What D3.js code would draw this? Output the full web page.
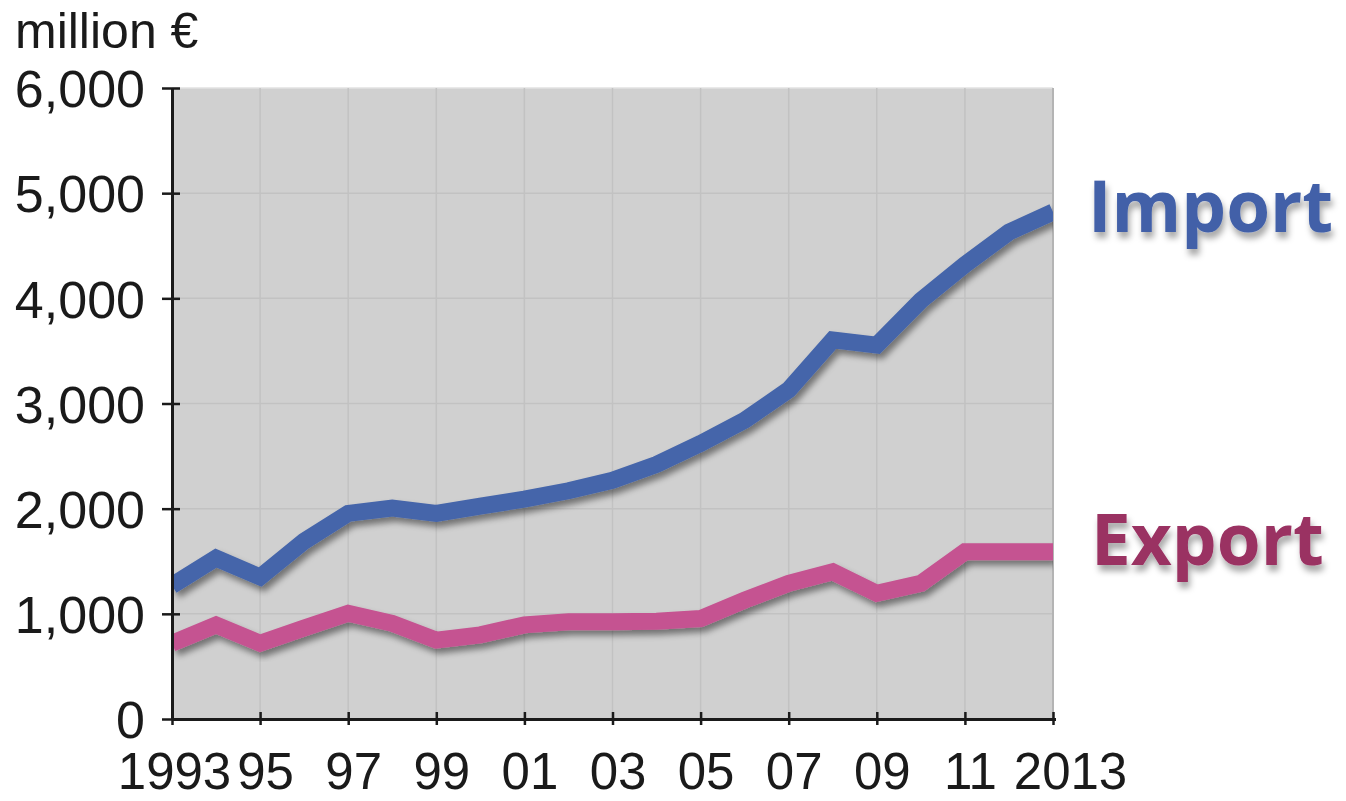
<!DOCTYPE html>
<html>
<head>
<meta charset="utf-8">
<script src="https://cdn.jsdelivr.net/npm/d3@7"></script>
<style>
  html, body { margin: 0; padding: 0; background: #ffffff; }
  svg { display: block; }
</style>
</head>
<body>
<svg id="chart" width="1346" height="801"></svg>
<script>
// Trade values, million €
const years = [1993, 1994, 1995, 1996, 1997, 1998, 1999, 2000, 2001, 2002, 2003,
               2004, 2005, 2006, 2007, 2008, 2009, 2010, 2011, 2012, 2013];
const importValues = [1270, 1530, 1350, 1690, 1955, 2005, 1955, 2025, 2090, 2170, 2270,
                      2420, 2620, 2840, 3130, 3605, 3555, 3980, 4320, 4630, 4820];
const exportValues = [720, 895, 720, 865, 1005, 910, 750, 800, 895, 925, 925,
                      930, 955, 1130, 1290, 1400, 1195, 1290, 1590, 1590, 1590];
const xTickYears = [1993, 1995, 1997, 1999, 2001, 2003, 2005, 2007, 2009, 2011, 2013];
const xTickLabels = ["1993", "95", "97", "99", "01", "03", "05", "07", "09", "11", "2013"];
const yTicks = [0, 1000, 2000, 3000, 4000, 5000, 6000];
const unitLabel = "million €";
const seriesNames = ["Import", "Export"];

const svg = d3.select("#chart");
const plotLeft = 172, plotRight = 1053, plotTop = 88, plotBottom = 719;

const x = d3.scaleLinear().domain([1993, 2013]).range([plotLeft, plotRight]);
const y = d3.scaleLinear().domain([0, 6000]).range([plotBottom, plotTop]);

const defs = svg.append("defs");
const lineShadow = defs.append("filter").attr("id", "lineShadow")
  .attr("x", "-10%").attr("y", "-10%").attr("width", "120%").attr("height", "130%");
lineShadow.append("feDropShadow").attr("dx", 3).attr("dy", 5).attr("stdDeviation", 3)
  .attr("flood-color", "#000").attr("flood-opacity", 0.45);
const textShadow = defs.append("filter").attr("id", "textShadow")
  .attr("x", "-10%").attr("y", "-20%").attr("width", "120%").attr("height", "150%");
textShadow.append("feDropShadow").attr("dx", 2).attr("dy", 6).attr("stdDeviation", 3)
  .attr("flood-color", "#000").attr("flood-opacity", 0.35);
defs.append("clipPath").attr("id", "plotClip")
  .append("rect").attr("x", plotLeft).attr("y", plotTop - 20)
  .attr("width", plotRight - plotLeft).attr("height", plotBottom - plotTop + 40);

// Plot background
svg.append("rect").attr("x", plotLeft).attr("y", plotTop)
  .attr("width", plotRight - plotLeft).attr("height", plotBottom - plotTop)
  .attr("fill", "#d0d0d0");

// Grid lines
svg.append("g").selectAll("line").data(yTicks.filter(d => d > 0)).join("line")
  .attr("x1", plotLeft).attr("x2", plotRight).attr("y1", d => y(d)).attr("y2", d => y(d))
  .attr("stroke", d => d === 6000 ? "#e2e2e2" : "#c2c2c2").attr("stroke-width", 1.5);
svg.append("g").selectAll("line").data(xTickYears.slice(1)).join("line")
  .attr("x1", d => x(d)).attr("x2", d => x(d)).attr("y1", plotTop).attr("y2", plotBottom)
  .attr("stroke", d => d === 2013 ? "#b4b4b4" : "#c2c2c2").attr("stroke-width", d => d === 2013 ? 2 : 1.5);

// Series lines
const line = d3.line().x((d, i) => x(years[i])).y(d => y(d)).curve(d3.curveLinear);
const lines = svg.append("g").attr("clip-path", "url(#plotClip)");
lines.append("path").datum(exportValues).attr("d", line)
  .attr("fill", "none").attr("stroke", "#c55391").attr("stroke-width", 17)
  .attr("stroke-linejoin", "miter").attr("filter", "url(#lineShadow)");
lines.append("path").datum(importValues).attr("d", line)
  .attr("fill", "none").attr("stroke", "#4565aa").attr("stroke-width", 17)
  .attr("stroke-linejoin", "miter").attr("filter", "url(#lineShadow)");

// Axes
const fmt = d3.format(",");
const yAxis = svg.append("g").attr("transform", `translate(${plotLeft},0)`)
  .call(d3.axisLeft(y).tickValues(yTicks).tickFormat(fmt).tickSizeInner(10).tickSizeOuter(0).tickPadding(17));
yAxis.selectAll(".tick line").attr("x2", 8).attr("x1", -10);
const xAxis = svg.append("g").attr("transform", `translate(0,${plotBottom})`)
  .call(d3.axisBottom(x).tickValues(xTickYears).tickFormat((d, i) => xTickLabels[i])
    .tickSizeInner(6).tickSizeOuter(0).tickPadding(28));
xAxis.selectAll(".tick line").attr("y1", -7).attr("y2", 6);
xAxis.select(".domain").attr("d", `M${plotLeft},0.5H${plotRight + 3}`);

[yAxis, xAxis].forEach(g => {
  g.select(".domain").attr("stroke", "#1a1a1a").attr("stroke-width", 3);
  g.selectAll(".tick line").attr("stroke", "#1a1a1a").attr("stroke-width", 2.5);
  g.selectAll(".tick text").attr("fill", "#1a1a1a")
    .attr("font-family", "'Liberation Sans', Arial, sans-serif").attr("font-size", 51);
});
yAxis.selectAll(".tick text").attr("dy", "0.36em").attr("font-size", 52);
xAxis.selectAll(".tick text").attr("dy", "0.71em")
  .attr("dx", d => d === 1993 ? 2 : (d === 2013 ? 17 : 5));

// Unit label
svg.append("text").attr("x", 15).attr("y", 48).text(unitLabel)
  .attr("font-family", "'Liberation Sans', Arial, sans-serif").attr("font-size", 50).attr("fill", "#1a1a1a");

// Series labels
svg.append("text").attr("x", 1088).attr("y", 232).text(seriesNames[0])
  .attr("font-family", "'Open Sans', sans-serif").attr("font-weight", 700).attr("font-size", 71)
  .attr("fill", "#4361a8").attr("filter", "url(#textShadow)");
svg.append("text").attr("x", 1091).attr("y", 565).text(seriesNames[1])
  .attr("font-family", "'Open Sans', sans-serif").attr("font-weight", 700).attr("font-size", 71)
  .attr("fill", "#9a3162").attr("filter", "url(#textShadow)");
</script>
</body>
</html>
